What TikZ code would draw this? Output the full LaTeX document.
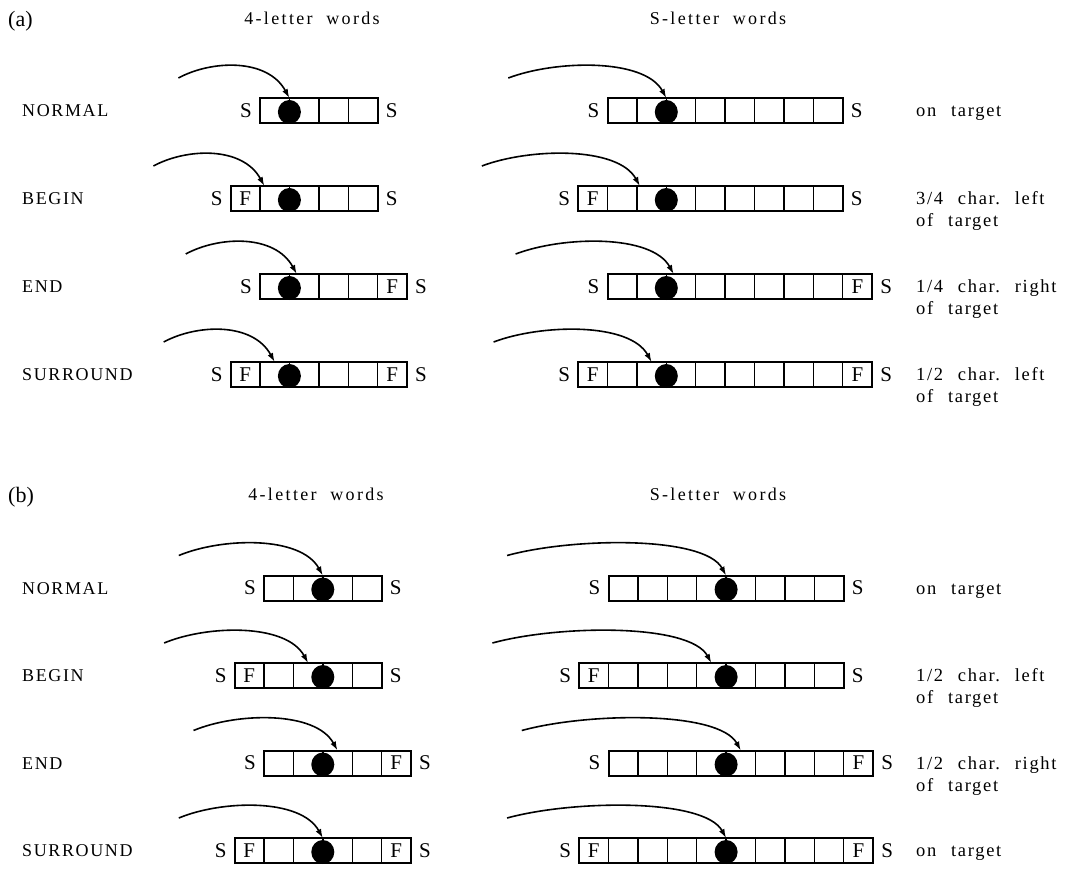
\documentclass[tikz,border=0pt]{standalone}
\usepackage{fontspec}
\setmainfont{Liberation Serif}
\usetikzlibrary{arrows.meta,calc}
\def\cw{29.4}
\newcommand{\wsp}{\hspace{0.8em}}
\tikzset{
  boxline/.style={line width=2pt},
  divline/.style={line width=1.4pt},
  jump/.style={line width=1.6pt, -{Latex[length=9pt,width=6pt]}},
  letter/.style={font=\fontsize{21}{22}\selectfont, inner sep=0pt},
  rowlabel/.style={font=\fontsize{18}{20}\selectfont\addfontfeature{LetterSpace=9}, anchor=base west, inner sep=0pt},
  rightlabel/.style={font=\fontsize{18.5}{20}\selectfont\addfontfeature{LetterSpace=9}, anchor=base west, inner sep=0pt},
  header/.style={font=\fontsize{18}{20}\selectfont\addfontfeature{LetterSpace=13}, anchor=base, inner sep=0pt},
  panel/.style={font=\fontsize{22}{24}\selectfont, anchor=base west, inner sep=0pt}
}
\newcommand{\wrow}[9]{%
 \pgfmathsetmacro\wL{#2-#5*\cw}%
 \pgfmathsetmacro\wR{#2+(#3+#6)*\cw}%
 \pgfmathsetmacro\wT{#4-12.5}%
 \pgfmathsetmacro\wB{#4+12.5}%
 \pgfmathtruncatemacro\wN{#3+#5+#6-1}%
 \pgfmathsetmacro\wD{#2+#7*\cw}%
 \foreach \i in {1,...,\wN} {\draw[divline] ({\wL+\i*\cw},\wT) -- ({\wL+\i*\cw},\wB);}
 \draw[boxline] (\wL,\wT) rectangle (\wR,\wB);
 \ifnum#5=1 \node[letter] (#1-fl) at ({\wL+\cw/2},#4) {F};\fi
 \ifnum#6=1 \node[letter] (#1-fr) at ({\wR-\cw/2},#4) {F};\fi
 \node[letter] (#1-sl) at ({\wL-14},#4) {S};
 \node[letter] (#1-sr) at ({\wR+14},#4) {S};
 \fill (\wD,{#4+1.5}) ellipse [x radius=11.5pt, y radius=12pt];
 \coordinate (#1-end) at ({\wD+#8*\cw},\wT);
 \coordinate (#1-start) at ({\wD+#8*\cw-#9},{\wT-20});
 \draw[jump] (#1-start) .. controls +({0.3*#9},-18) and +(-22,-40) .. (#1-end);
}
\begin{document}
\begin{tikzpicture}[x=1pt,y=-1pt]
\useasboundingbox (0,0) rectangle (1071,869);
% panel (a)
\node[panel] (pa) at (8,27) {(a)};
\node[header] (ha4) at (312,25) {4-letter\ \ words};
\node[header] (ha8) at (718,25) {S-letter\ \ words};
\node[rowlabel] (la1) at (22,116.5) {NORMAL};
\node[rowlabel] (la2) at (22,204.5) {BEGIN};
\node[rowlabel] (la3) at (22,292.5) {END};
\node[rowlabel] (la4) at (22,380.5) {SURROUND};
\wrow{a4n}{260}{4}{110.5}{0}{0}{1}{0}{111}
\wrow{a4b}{260}{4}{198.5}{1}{0}{1}{-0.85}{111}
\wrow{a4e}{260}{4}{286.5}{0}{1}{1}{0.25}{111}
\wrow{a4s}{260}{4}{374.5}{1}{1}{1}{-0.5}{111}
\wrow{a8n}{607.5}{8}{110.5}{0}{0}{2}{0}{158}
\wrow{a8b}{607.5}{8}{198.5}{1}{0}{2}{-0.9}{158}
\wrow{a8e}{607.5}{8}{286.5}{0}{1}{2}{0.25}{158}
\wrow{a8s}{607.5}{8}{374.5}{1}{1}{2}{-0.5}{158}
\node[rightlabel] (ra1) at (916,116.5) {on\wsp target};
\node[rightlabel] (ra2) at (916,204.5) {3/4\wsp char.\wsp left};
\node[rightlabel] (ra2b) at (916,226.5) {of\wsp target};
\node[rightlabel] (ra3) at (916,292.5) {1/4\wsp char.\wsp right};
\node[rightlabel] (ra3b) at (916,314.5) {of\wsp target};
\node[rightlabel] (ra4) at (916,380.5) {1/2\wsp char.\wsp left};
\node[rightlabel] (ra4b) at (916,402.5) {of\wsp target};
% panel (b)
\node[panel] (pb) at (8,502) {(b)};
\node[header] (hb4) at (316,500) {4-letter\ \ words};
\node[header] (hb8) at (718,500) {S-letter\ \ words};
\node[rowlabel] (lb1) at (22,594) {NORMAL};
\node[rowlabel] (lb2) at (22,681.5) {BEGIN};
\node[rowlabel] (lb3) at (22,769) {END};
\node[rowlabel] (lb4) at (22,856.5) {SURROUND};
\wrow{b4n}{264}{4}{588}{0}{0}{2}{0}{144}
\wrow{b4b}{264}{4}{675.5}{1}{0}{2}{-0.5}{144}
\wrow{b4e}{264}{4}{763}{0}{1}{2}{0.5}{144}
\wrow{b4s}{264}{4}{850.5}{1}{1}{2}{0}{144}
\wrow{b8n}{608.5}{8}{588}{0}{0}{4}{0}{219}
\wrow{b8b}{608.5}{8}{675.5}{1}{0}{4}{-0.5}{219}
\wrow{b8e}{608.5}{8}{763}{0}{1}{4}{0.5}{219}
\wrow{b8s}{608.5}{8}{850.5}{1}{1}{4}{0}{219}
\node[rightlabel] (rb1) at (916,594) {on\wsp target};
\node[rightlabel] (rb2) at (916,681.5) {1/2\wsp char.\wsp left};
\node[rightlabel] (rb2b) at (916,703.5) {of\wsp target};
\node[rightlabel] (rb3) at (916,769) {1/2\wsp char.\wsp right};
\node[rightlabel] (rb3b) at (916,791) {of\wsp target};
\node[rightlabel] (rb4) at (916,856.5) {on\wsp target};
\end{tikzpicture}
\end{document}
